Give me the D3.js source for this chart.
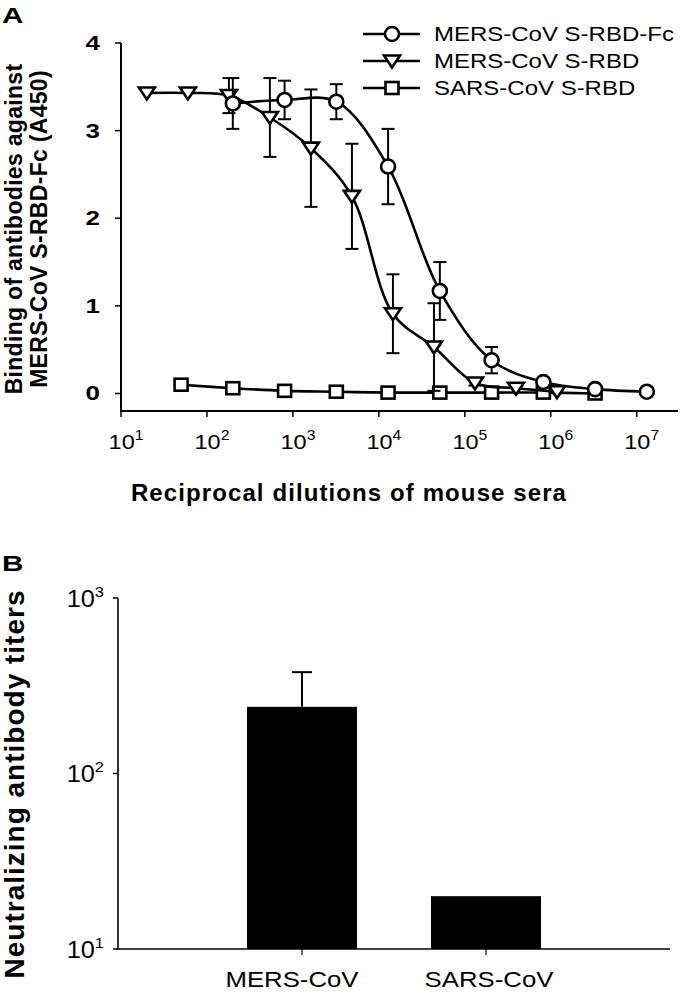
<!DOCTYPE html>
<html>
<head>
<meta charset="utf-8">
<script src="https://cdn.jsdelivr.net/npm/d3@7"></script>
<style>
  body { margin: 0; background: #fff; }
  svg { display: block; font-family: "Liberation Sans", Arial, sans-serif; }
</style>
</head>
<body>
<svg id="chart" width="680" height="995"></svg>
<script>
// panel A: dilution series
const dilTri = [20, 60, 180, 540, 1620, 4860, 14580, 43740, 131220, 393660, 1180980];
const rbdVal = [3.43, 3.43, 3.40, 3.15, 2.80, 2.25, 0.91, 0.53, 0.12, 0.06, 0.02];
const rbdErr = [0, 0, 0.20, 0.45, 0.67, 0.60, 0.45, 0.50, 0.03, 0, 0];

const dilFc = [200, 800, 3200, 12800, 51200, 204800, 819200, 3276800, 13107200];
const fcVal = [3.31, 3.35, 3.33, 2.59, 1.17, 0.38, 0.13, 0.05, 0.02];
const fcErr = [0.29, 0.22, 0.20, 0.43, 0.33, 0.15, 0.02, 0, 0];

const dilSars = [50, 200, 800, 3200, 12800, 51200, 204800, 819200, 3276800];
const sarsVal = [0.10, 0.06, 0.03, 0.02, 0.01, 0.01, 0.01, 0.01, 0.00];

const seriesNames = ["MERS-CoV S-RBD-Fc", "MERS-CoV S-RBD", "SARS-CoV S-RBD"];
const yTicksA = [0, 1, 2, 3, 4];
const xExpA = [1, 2, 3, 4, 5, 6, 7];

// panel B: neutralizing titers
const virusCats = ["MERS-CoV", "SARS-CoV"];
const titerVal = [240, 20];
const titerErr = [138, 0];
const yExpB = [1, 2, 3];

const svg = d3.select("#chart");
const ink = "#000";

// the source figure is a bit wider than tall, so horizontal text gets squeezed out sideways
function wideText(g, x, y, sx, size, bold, anchor) {
  return g.append("g").attr("transform", `translate(${x},${y}) scale(${sx},1)`)
    .append("text").attr("text-anchor", anchor || "start")
    .style("font-size", size + "px").style("font-weight", bold ? "bold" : "normal");
}

// ---------- panel A ----------
const xA = d3.scaleLog().domain([10, Math.pow(10, 7.48)]).range([121, 678]);
const yA = d3.scaleLinear().domain([-0.2, 4]).range([411, 43]);
const gA = svg.append("g");

gA.append("line").attr("x1", 121).attr("x2", 121).attr("y1", yA(4)).attr("y2", 411)
  .attr("stroke", ink).attr("stroke-width", 2);
gA.append("line").attr("x1", 120).attr("x2", 678).attr("y1", 411).attr("y2", 411)
  .attr("stroke", ink).attr("stroke-width", 2);

yTicksA.forEach(v => {
  gA.append("line").attr("x1", 115).attr("x2", 121).attr("y1", yA(v)).attr("y2", yA(v))
    .attr("stroke", ink).attr("stroke-width", 1.5);
  wideText(gA, 100, yA(v) + 7, 1.3, 20, true, "end").text(v);
});

xExpA.forEach(e => {
  const x = xA(Math.pow(10, e));
  gA.append("line").attr("x1", x).attr("x2", x).attr("y1", 411).attr("y2", 417)
    .attr("stroke", ink).attr("stroke-width", 1.5);
  const t = wideText(gA, x + 5, 449, 1.12, 21, false, "middle");
  t.append("tspan").text("10");
  t.append("tspan").attr("dy", -9).style("font-size", "14px").text(e);
});

gA.append("text").attr("x", 349).attr("y", 501).attr("text-anchor", "middle")
  .style("font-size", "24px").style("font-weight", "bold").style("letter-spacing", "1.1px")
  .text("Reciprocal dilutions of mouse sera");

const yTitleA = gA.append("text").attr("transform", "translate(22,229) rotate(-90)")
  .attr("text-anchor", "middle").style("font-size", "23px").style("font-weight", "bold")
  .style("letter-spacing", "0.3px");
yTitleA.append("tspan").attr("x", 0).attr("y", 0).text("Binding of antibodies against");
yTitleA.append("tspan").attr("x", 0).attr("y", 25).text("MERS-CoV S-RBD-Fc (A450)");

wideText(gA, 2, 23, 1.35, 22, true).text("A");

const curve = d3.line().curve(d3.curveCatmullRom.alpha(0.5));

function drawSeries(dil, vals, errs, marker) {
  const pts = dil.map((d, i) => [xA(d), yA(vals[i])]);
  gA.append("path").attr("d", curve(pts)).attr("fill", "none")
    .attr("stroke", ink).attr("stroke-width", 2.6);
  if (errs) {
    dil.forEach((d, i) => {
      if (!errs[i]) return;
      const x = xA(d), y1 = yA(vals[i] + errs[i]), y2 = yA(Math.max(vals[i] - errs[i], 0));
      gA.append("line").attr("x1", x).attr("x2", x).attr("y1", y1).attr("y2", y2)
        .attr("stroke", ink).attr("stroke-width", 2);
      [y1, y2].forEach(y => gA.append("line").attr("x1", x - 6.5).attr("x2", x + 6.5)
        .attr("y1", y).attr("y2", y).attr("stroke", ink).attr("stroke-width", 2));
    });
  }
  pts.forEach(p => marker(gA, p[0], p[1]));
}

function circleMark(g, x, y) {
  g.append("circle").attr("cx", x).attr("cy", y).attr("r", 7)
    .attr("fill", "#fff").attr("stroke", ink).attr("stroke-width", 2.6);
}
function triMark(g, x, y) {
  g.append("path").attr("d", `M${x - 8},${y - 5.5}L${x + 8},${y - 5.5}L${x},${y + 6.5}Z`)
    .attr("fill", "#fff").attr("stroke", ink).attr("stroke-width", 2.6).attr("stroke-linejoin", "miter");
}
function squareMark(g, x, y) {
  g.append("rect").attr("x", x - 6.5).attr("y", y - 6).attr("width", 13).attr("height", 12)
    .attr("fill", "#fff").attr("stroke", ink).attr("stroke-width", 2.6);
}

drawSeries(dilSars, sarsVal, null, squareMark);
drawSeries(dilTri, rbdVal, rbdErr, triMark);
drawSeries(dilFc, fcVal, fcErr, circleMark);

// legend
const markers = [circleMark, triMark, squareMark];
seriesNames.forEach((name, i) => {
  const y = 34 + i * 27;
  gA.append("line").attr("x1", 363).attr("x2", 420).attr("y1", y).attr("y2", y)
    .attr("stroke", ink).attr("stroke-width", 2.6);
  markers[i](gA, 392, y);
  wideText(gA, 434, y + 7, 1.2, 20, false).text(name);
});

// ---------- panel B ----------
const yB = d3.scaleLog().domain([10, 1000]).range([949, 598]);
const xB = d3.scalePoint().domain(virusCats).range([118, 670]).padding(1);
const gB = svg.append("g");

gB.selectAll("rect.bar").data(virusCats).join("rect").attr("class", "bar")
  .attr("x", d => xB(d) - 55).attr("width", 110)
  .attr("y", (d, i) => yB(titerVal[i])).attr("height", (d, i) => yB(10) - yB(titerVal[i]))
  .attr("fill", ink);

virusCats.forEach((c, i) => {
  if (!titerErr[i]) return;
  const x = xB(c), yt = yB(titerVal[i] + titerErr[i]);
  gB.append("line").attr("x1", x).attr("x2", x).attr("y1", yB(titerVal[i])).attr("y2", yt)
    .attr("stroke", ink).attr("stroke-width", 2);
  gB.append("line").attr("x1", x - 10).attr("x2", x + 10).attr("y1", yt).attr("y2", yt)
    .attr("stroke", ink).attr("stroke-width", 2);
});

gB.append("line").attr("x1", 118).attr("x2", 118).attr("y1", 598).attr("y2", 949)
  .attr("stroke", ink).attr("stroke-width", 1.6);
gB.append("line").attr("x1", 117).attr("x2", 670).attr("y1", 949).attr("y2", 949)
  .attr("stroke", ink).attr("stroke-width", 1.6);

yExpB.forEach(e => {
  const y = yB(Math.pow(10, e));
  gB.append("line").attr("x1", 113).attr("x2", 118).attr("y1", y).attr("y2", y)
    .attr("stroke", ink).attr("stroke-width", 1.5);
  const t = wideText(gB, 104, y + 8.5, 1.1, 23, false, "end");
  t.append("tspan").text("10");
  t.append("tspan").attr("dy", -10).style("font-size", "15px").text(e);
});

virusCats.forEach((c, i) => {
  const x = xB(c);
  gB.append("line").attr("x1", x).attr("x2", x).attr("y1", 949).attr("y2", 955)
    .attr("stroke", ink).attr("stroke-width", 1.2);
  wideText(gB, x + (i ? 3 : -10), 987, 1.12, 23, false, "middle").text(c);
});

gB.append("text").attr("transform", "translate(24,784) rotate(-90)").attr("text-anchor", "middle")
  .style("font-size", "28px").style("font-weight", "bold").style("letter-spacing", "1px")
  .text("Neutralizing antibody titers");

wideText(gB, 2, 571, 1.35, 22, true).text("B");
</script>
</body>
</html>
